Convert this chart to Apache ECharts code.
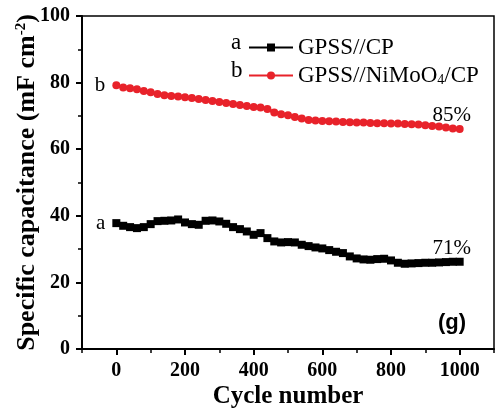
<!DOCTYPE html>
<html>
<head>
<meta charset="utf-8">
<script src="https://cdn.jsdelivr.net/npm/echarts@6/dist/echarts.min.js"></script>
<style>
  html, body { margin: 0; padding: 0; background: #fff; }
  #chart { width: 498px; height: 409px; }
</style>
</head>
<body>
<div id="chart"></div>
<script>
// cycle number (every 20 cycles)
const cycles = [0, 20, 40, 60, 80, 100, 120, 140, 160, 180, 200, 220, 240, 260, 280, 300, 320, 340, 360, 380,
  400, 420, 440, 460, 480, 500, 520, 540, 560, 580, 600, 620, 640, 660, 680, 700, 720, 740, 760, 780,
  800, 820, 840, 860, 880, 900, 920, 940, 960, 980, 1000];

// a: GPSS//CP
const capA = [37.8, 37.0, 36.6, 36.3, 36.6, 37.5, 38.4, 38.5, 38.6, 38.9, 38.0, 37.5, 37.3, 38.5, 38.6, 38.3, 37.6, 36.6, 36.0, 35.3,
  34.3, 34.8, 33.3, 32.3, 32.0, 32.1, 32.0, 31.3, 30.9, 30.5, 30.2, 29.7, 29.2, 28.8, 27.8, 27.2, 26.9, 26.8, 27.0, 27.1,
  26.6, 25.9, 25.6, 25.7, 25.8, 25.9, 25.9, 26.0, 26.1, 26.2, 26.2];

// b: GPSS//NiMoO4/CP
const capB = [79.2, 78.5, 78.3, 78.0, 77.5, 77.1, 76.6, 76.2, 76.0, 75.8, 75.6, 75.4, 75.1, 74.8, 74.5, 74.2, 73.9, 73.6, 73.3, 73.0,
  72.7, 72.5, 72.1, 71.0, 70.5, 70.2, 69.7, 69.2, 68.8, 68.6, 68.5, 68.4, 68.3, 68.2, 68.1, 68.0, 68.0, 67.9, 67.8, 67.8,
  67.7, 67.7, 67.6, 67.5, 67.4, 67.2, 67.0, 66.8, 66.5, 66.2, 66.1];

const seriesNames = ['GPSS//CP', 'GPSS//NiMoO4/CP'];
const curveTags = ['a', 'b'];
const retention = ['71%', '85%'];
const xTicks = [0, 200, 400, 600, 800, 1000];

const serif = 'Liberation Serif';

function buildData(vals, tag, pct) {
  const last = vals.length - 1;
  return vals.map((v, i) => {
    if (i === 0) {
      return { value: [cycles[i], v], label: { show: true, position: 'left', distance: 7, formatter: tag } };
    }
    if (i === last) {
      return { value: [cycles[i], v], label: { show: true, position: 'top', offset: [-8, 6], formatter: pct } };
    }
    return [cycles[i], v];
  });
}

const chart = echarts.init(document.getElementById('chart'));
chart.setOption({
  animation: false,
  backgroundColor: '#fff',
  grid: {
    left: 82, top: 16, right: 4, bottom: 60,
    outerBoundsMode: 'none', containLabel: false,
    show: true, borderColor: '#000', borderWidth: 1.5
  },
  legend: {
    orient: 'vertical',
    left: 243, top: 31,
    itemWidth: 44, itemHeight: 10, itemGap: 5,
    textStyle: {
      fontFamily: serif, fontSize: 23, color: '#000',
      rich: { sub: { fontFamily: serif, fontSize: 14, verticalAlign: 'bottom', padding: [10, 0, 0, 0], color: '#000' } }
    },
    formatter: name => name.replace('NiMoO4', 'NiMoO{sub|4}'),
    data: seriesNames
  },
  graphic: [
    { type: 'text', left: 231, top: 31, style: { text: curveTags[0], font: '23px "Liberation Serif"', fill: '#000' } },
    { type: 'text', left: 231, top: 59, style: { text: curveTags[1], font: '23px "Liberation Serif"', fill: '#000' } },
    { type: 'text', left: 438, top: 312, style: { text: '(g)', font: 'bold 22px "Liberation Sans"', fill: '#000' } }
  ],
  xAxis: [
    {
      type: 'value', min: -100, max: 1100,
      name: 'Cycle number', nameLocation: 'middle', nameGap: 35, nameMoveOverlap: false,
      nameTextStyle: { fontFamily: serif, fontWeight: 'bold', fontSize: 25, color: '#000' },
      axisLine: { show: true, onZero: false, lineStyle: { color: '#000', width: 2 } },
      axisTick: { show: true, length: 6, lineStyle: { color: '#000', width: 2 }, customValues: xTicks },
      axisLabel: {
        margin: 12, fontFamily: serif, fontWeight: 'bold', fontSize: 20, color: '#000',
        customValues: xTicks, formatter: v => String(v)
      },
      splitLine: { show: false }
    },
    {
      type: 'value', min: -100, max: 1100, interval: 100, position: 'bottom',
      axisLine: { show: false },
      axisTick: { show: true, length: 4, lineStyle: { color: '#000', width: 1.5 } },
      axisLabel: { show: false },
      splitLine: { show: false }
    }
  ],
  yAxis: {
    type: 'value', min: 0, max: 100, interval: 20,
    name: 'Specific capacitance (mF cm{sup|-2})', nameLocation: 'middle', nameGap: 42, nameMoveOverlap: false,
    nameTextStyle: {
      fontFamily: serif, fontWeight: 'bold', fontSize: 26, color: '#000',
      rich: { sup: { fontFamily: serif, fontWeight: 'bold', fontSize: 15, verticalAlign: 'top', padding: [0, 0, 11, 0], color: '#000' } }
    },
    axisLine: { show: true, onZero: false, lineStyle: { color: '#000', width: 2 } },
    axisTick: { show: true, length: 6, lineStyle: { color: '#000', width: 2 } },
    minorTick: { show: true, splitNumber: 2, length: 4, lineStyle: { color: '#000', width: 1.5 } },
    axisLabel: { margin: 12, fontFamily: serif, fontWeight: 'bold', fontSize: 20, color: '#000' },
    splitLine: { show: false }
  },
  series: [
    {
      name: seriesNames[0], type: 'line',
      symbol: 'rect', symbolSize: 8,
      lineStyle: { color: '#000', width: 3 },
      itemStyle: { color: '#000' },
      label: { fontFamily: serif, fontSize: 21, color: '#000' },
      data: buildData(capA, curveTags[0], retention[0])
    },
    {
      name: seriesNames[1], type: 'line',
      symbol: 'circle', symbolSize: 8,
      lineStyle: { color: '#e8222a', width: 3 },
      itemStyle: { color: '#e8222a' },
      label: { fontFamily: serif, fontSize: 21, color: '#000' },
      data: buildData(capB, curveTags[1], retention[1])
    }
  ]
});
</script>
</body>
</html>
